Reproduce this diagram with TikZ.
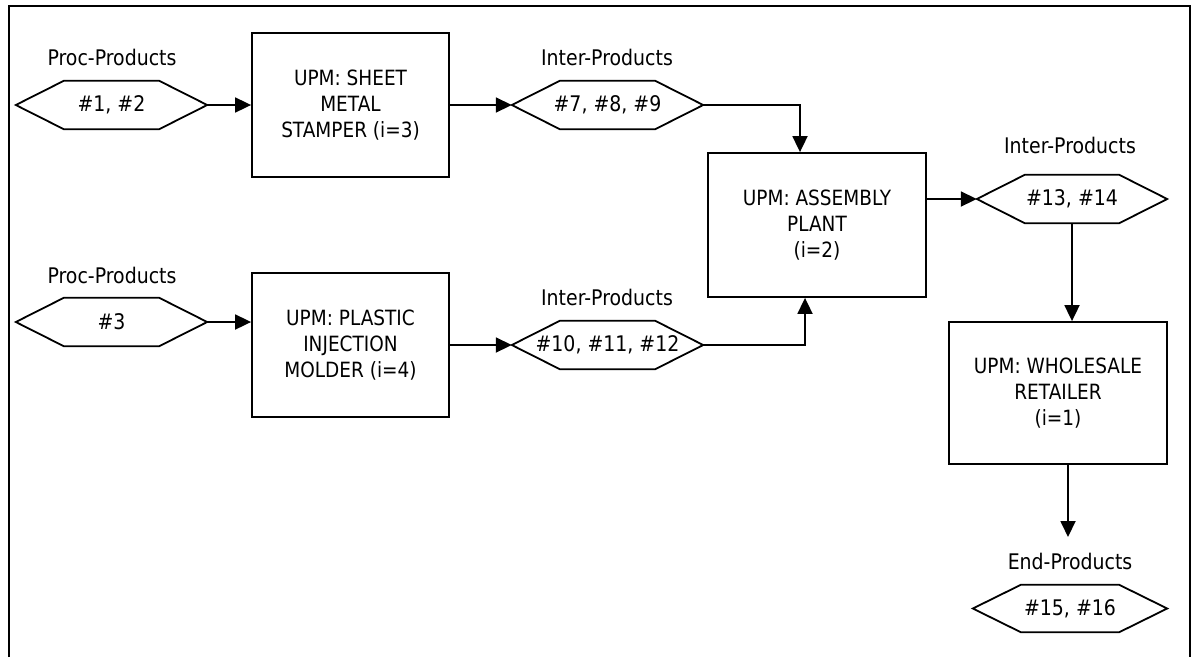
\documentclass[tikz,border=0pt]{standalone}
\usepackage{fontspec}
\setmainfont{DejaVu Sans}[FakeStretch=0.88]
\usetikzlibrary{arrows.meta}
\begin{document}
\begin{tikzpicture}[x=1pt,y=-1pt,
  every node/.style={font=\fontsize{21}{26}\selectfont},
  unit/.style={draw,line width=1.8pt,minimum width=197pt,minimum height=144pt,align=center,inner sep=2pt},
  prod/.style={minimum width=191pt,minimum height=48pt,inner sep=0pt,font=\fontsize{21.5}{26}\selectfont},
  hexline/.style={line width=1.8pt,line join=miter},
  tag/.style={font=\fontsize{21.5}{24}\selectfont},
  flow/.style={line width=1.8pt,-{Triangle[length=16pt,width=15pt]}}]
\useasboundingbox (0,0) rectangle (1193,657);
% open frame (no bottom edge)
\draw[line width=1.8pt] (9,657) -- (9,6) -- (1190,6) -- (1190,657);

% upper branch
\node[prod] (p1) at (111.5,105) {\#1, \#2};
\node[tag] (l1) at (112,57) {Proc-Products};
\node[unit] (u3) at (350.5,105) {UPM: SHEET\\METAL\\STAMPER (i=3)};
\node[prod] (p2) at (607.5,105) {\#7, \#8, \#9};
\node[tag] (l2) at (607,57) {Inter-Products};

% lower branch
\node[prod] (p3) at (111.5,322) {\#3};
\node[tag] (l3) at (112,275) {Proc-Products};
\node[unit] (u4) at (350.5,345) {UPM: PLASTIC\\INJECTION\\MOLDER (i=4)};
\node[prod] (p4) at (607.5,345) {\#10, \#11, \#12};
\node[tag] (l4) at (607,297) {Inter-Products};

% assembly and distribution
\node[unit,minimum width=218pt] (u2) at (817,225) {UPM: ASSEMBLY\\PLANT\\(i=2)};
\node[prod,minimum width=190pt] (p5) at (1072,199) {\#13, \#14};
\node[tag] (l5) at (1070,145) {Inter-Products};
\node[unit,minimum width=218pt,minimum height=142pt] (u1) at (1058,393) {UPM: WHOLESALE\\RETAILER\\(i=1)};
\coordinate (out) at (1068,537);
\node[tag] (l6) at (1070,561) {End-Products};
\node[prod,minimum width=194pt,minimum height=47pt] (p6) at (1070,608.5) {\#15, \#16};

% hexagonal outlines of the product sets
\foreach \n in {p1,p2,p3,p4,p5,p6}
  \draw[hexline] (\n.west) -- ([xshift=48pt]\n.north west) -- ([xshift=-48pt]\n.north east)
    -- (\n.east) -- ([xshift=-48pt]\n.south east) -- ([xshift=48pt]\n.south west) -- cycle;

% flows
\draw[flow] (p1.east) -- (u3.west);
\draw[flow] (u3.east) -- (p2.west);
\draw[flow] (p2.east) -| ([xshift=-17pt]u2.north);
\draw[flow] (p3.east) -- (p3.east -| u4.west);
\draw[flow] (u4.east) -- (p4.west);
\draw[flow] (p4.east) -| ([xshift=-12pt]u2.south);
\draw[flow] (u2.east |- p5.west) -- (p5.west);
\draw[flow] (p5.south) -- (p5.south |- u1.north);
\draw[flow] (out |- u1.south) -- (out);
\end{tikzpicture}
\end{document}
